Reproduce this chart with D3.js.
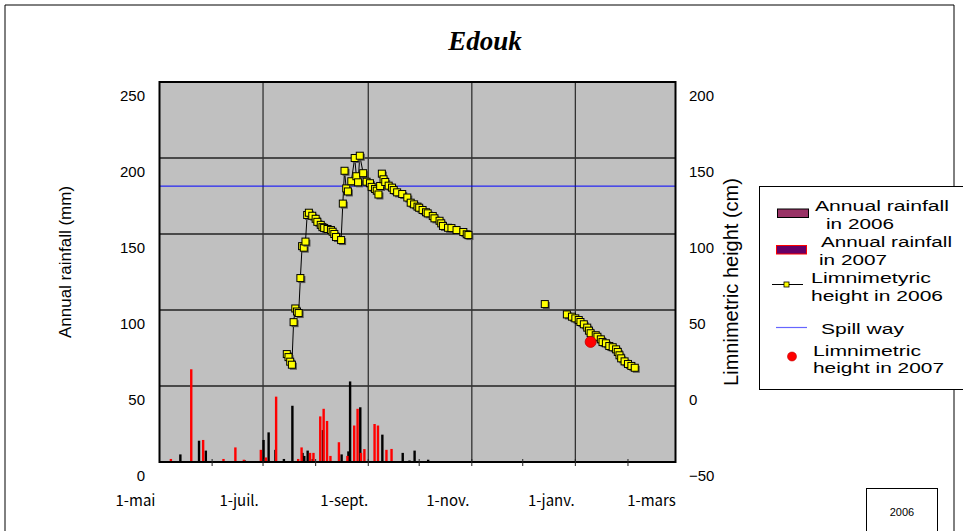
<!DOCTYPE html>
<html lang="fr">
<head>
<meta charset="UTF-8">
<title>Edouk</title>
<style>
  body { margin: 0; background: #fff; }
  svg text { font-family: "Liberation Sans", Arial, sans-serif; fill: #000; }
</style>
</head>
<body>
<div id="chart"></div>
<script src="https://d3js.org/d3.v7.min.js"></script>
<script>
var parse = d3.timeParse("%Y-%m-%d");

// daily rainfall (mm), both years drawn on the same May -> March season axis
var rain2006Dates = ["2006-05-14","2006-05-25","2006-05-29","2006-06-21","2006-07-02","2006-07-05","2006-07-09","2006-07-14",
  "2006-07-19","2006-07-25","2006-07-26","2006-07-28","2006-07-31","2006-08-06","2006-08-17","2006-08-21","2006-08-22",
  "2006-08-28","2006-09-10","2006-09-22","2006-09-26","2006-09-29","2006-10-07"];
var rain2006Values = [5,14,7.5,1,14.5,19.5,8,2,37,6,4,7.5,2,21,5,7,53,36,18,6,1,7.5,1.5];

var rain2007Dates = ["2006-05-07","2006-05-19","2006-05-26","2006-06-07","2006-06-14","2006-06-19","2006-06-29","2006-07-02",
  "2006-07-08","2006-07-21","2006-07-23","2006-07-28","2006-07-30","2006-08-03","2006-08-05","2006-08-07","2006-08-09",
  "2006-08-14","2006-08-19","2006-08-23","2006-08-25","2006-08-27","2006-08-29","2006-09-04","2006-09-06","2006-09-11","2006-09-14"];
var rain2007Values = [2,61,14.5,2,9.6,1.5,8,3,43,2,9.6,6,6,30,35,27,4,13,4,24,35,6,8.5,25,24,8,8.6];

// limnimetric height 2006 (cm), null = no reading (breaks the line)
var level2006Dates = [
  "2006-07-15","2006-07-16","2006-07-17","2006-07-18","2006-07-19","2006-07-20","2006-07-21","2006-07-22","2006-07-23",
  "2006-07-24","2006-07-25","2006-07-26","2006-07-27","2006-07-28","2006-07-30",
  "2006-08-01","2006-08-02","2006-08-04","2006-08-05","2006-08-06","2006-08-08","2006-08-10","2006-08-11","2006-08-12",
  "2006-08-13","2006-08-16","2006-08-17","2006-08-18","2006-08-19","2006-08-20","2006-08-22","2006-08-24","2006-08-25",
  "2006-08-26","2006-08-27","2006-08-29","2006-08-31",
  "2006-09-02","2006-09-03","2006-09-05","2006-09-06","2006-09-07","2006-09-08","2006-09-09","2006-09-10","2006-09-11",
  "2006-09-13","2006-09-15","2006-09-16","2006-09-18","2006-09-21","2006-09-24","2006-09-26","2006-09-28","2006-09-30",
  "2006-10-01","2006-10-03","2006-10-05","2006-10-06","2006-10-09","2006-10-10","2006-10-13","2006-10-14","2006-10-15",
  "2006-10-18","2006-10-20","2006-10-23","2006-10-27","2006-10-29","2006-10-30",
  "2006-11-15","2006-12-14","2006-12-20",
  "2006-12-27","2006-12-30","2007-01-01","2007-01-03","2007-01-04","2007-01-06","2007-01-08","2007-01-09","2007-01-10",
  "2007-01-13","2007-01-14","2007-01-16","2007-01-17","2007-01-19","2007-01-21","2007-01-23","2007-01-25","2007-01-26",
  "2007-01-27","2007-01-28","2007-01-30","2007-02-01","2007-02-03","2007-02-05"];
var level2006Values = [
  21,19,16,14,42,51,49,48,71,92,91,95,112.5,114,112,
  110,108,106,104.5,104,103.3,102.6,101.5,100,98,96,120,141.6,130,128,134.7,150,138,134,151.5,140,134.4,
  133.4,131,129.6,128.5,126,131.6,139.7,136,134.2,131.8,130.5,128.9,127.4,126.3,124,120.6,119.5,118,
  117.3,115.8,114.3,113.6,111.8,110.3,108.7,107,105.3,104.1,103.9,102.6,101.3,99.8,99.3,
  null,53.9,null,
  47.1,45.6,44.5,43.4,42.1,40.6,38.4,36.4,34.7,33.4,32.4,30.7,28.9,28.1,26.3,25.5,24.1,22.4,20.2,18.2,16.2,14.5,13.2,12];

var level2007Dates = ["2007-01-10"];
var level2007Values = [29];

var spillWay = 131.5;

var xTickDates = ["2006-05-01","2006-07-01","2006-09-01","2006-11-01","2007-01-01","2007-03-01"];
var xTickLabels = ["1-mai","1-juil.","1-sept.","1-nov.","1-janv.","1-mars"];
var leftTicks = [0,50,100,150,200,250];
var rightTicks = [-50,0,50,100,150,200];

var W = 963, H = 531;
var plot = {left: 159.5, right: 675.5, top: 82, bottom: 462};

var svg = d3.select("#chart").append("svg")
  .attr("width", W).attr("height", H);

var x = d3.scaleTime()
  .domain([parse("2006-05-01"), parse("2007-03-01")])
  .range([plot.left, plot.right]);
var yL = d3.scaleLinear().domain([0, 250]).range([plot.bottom, plot.top]);
var yR = d3.scaleLinear().domain([-50, 200]).range([plot.bottom, plot.top]);

// outer frame
svg.append("path")
  .attr("d", "M5," + H + "V5H954V" + H)
  .attr("fill", "none").attr("stroke", "#000").attr("stroke-width", 1);

// title
svg.append("text")
  .attr("x", 485).attr("y", 50)
  .attr("text-anchor", "middle")
  .style("font-family", "'Liberation Serif', serif")
  .style("font-weight", "bold").style("font-style", "italic")
  .style("font-size", "27px")
  .text("Edouk");

// plot background
svg.append("rect")
  .attr("x", plot.left).attr("y", plot.top)
  .attr("width", plot.right - plot.left).attr("height", plot.bottom - plot.top)
  .attr("fill", "#c0c0c0");

// grid
svg.append("g").selectAll("line")
  .data(leftTicks.slice(1, -1))
  .join("line")
  .attr("x1", plot.left).attr("x2", plot.right)
  .attr("y1", function(d){ return yL(d); }).attr("y2", function(d){ return yL(d); })
  .attr("stroke", "#222").attr("stroke-width", 1.3);

svg.append("g").selectAll("line")
  .data(xTickDates.slice(1, -1))
  .join("line")
  .attr("x1", function(d){ return x(parse(d)); }).attr("x2", function(d){ return x(parse(d)); })
  .attr("y1", plot.top).attr("y2", plot.bottom)
  .attr("stroke", "#333").attr("stroke-width", 1.3);

// spill way
svg.append("line")
  .attr("x1", plot.left).attr("x2", plot.right)
  .attr("y1", yR(spillWay)).attr("y2", yR(spillWay))
  .attr("stroke", "#0000ff").attr("stroke-width", 1);

// rainfall bars
var barW = 2.4;
function drawBars(dates, values, color, offset) {
  svg.append("g").selectAll("rect")
    .data(dates.map(function(d, i){ return {date: parse(d), v: values[i]}; }))
    .join("rect")
    .attr("x", function(d){ return x(d.date) + offset - barW / 2; })
    .attr("y", function(d){ return yL(d.v); })
    .attr("width", barW)
    .attr("height", function(d){ return plot.bottom - yL(d.v); })
    .attr("fill", color);
}
drawBars(rain2006Dates, rain2006Values, "#000", -1.2);
drawBars(rain2007Dates, rain2007Values, "#ff0000", 1.2);

// limnimetric line 2006
var levelData = level2006Dates.map(function(d, i){ return {date: parse(d), v: level2006Values[i]}; });
var line = d3.line()
  .defined(function(d){ return d.v !== null; })
  .x(function(d){ return x(d.date); })
  .y(function(d){ return yR(d.v); });

svg.append("path")
  .datum(levelData)
  .attr("d", line)
  .attr("fill", "none").attr("stroke", "#000").attr("stroke-width", 1);

var pts = levelData.filter(function(d){ return d.v !== null; });
var mk = 7;
var markers = svg.append("g");
pts.forEach(function(d){
  var cx = x(d.date), cy = yR(d.v);
  markers.append("rect")
    .attr("x", cx - mk / 2 + 1.5).attr("y", cy - mk / 2 + 1.5)
    .attr("width", mk).attr("height", mk)
    .attr("fill", "#555");
  markers.append("rect")
    .attr("x", cx - mk / 2).attr("y", cy - mk / 2)
    .attr("width", mk).attr("height", mk)
    .attr("fill", "#ffff00").attr("stroke", "#000").attr("stroke-width", 1);
});

// limnimetric height 2007
svg.append("g").selectAll("circle")
  .data(level2007Dates.map(function(d, i){ return {date: parse(d), v: level2007Values[i]}; }))
  .join("circle")
  .attr("cx", function(d){ return x(d.date); })
  .attr("cy", function(d){ return yR(d.v); })
  .attr("r", 5.5)
  .attr("fill", "#ff0000").attr("stroke", "#c00000").attr("stroke-width", 0.8);

// plot border
svg.append("rect")
  .attr("x", plot.left).attr("y", plot.top)
  .attr("width", plot.right - plot.left).attr("height", plot.bottom - plot.top)
  .attr("fill", "none").attr("stroke", "#000").attr("stroke-width", 2);

// small month ticks on the bottom edge
svg.append("g").selectAll("line")
  .data(d3.timeMonth.range(parse("2006-06-01"), parse("2007-03-01")))
  .join("line")
  .attr("x1", function(d){ return x(d); }).attr("x2", function(d){ return x(d); })
  .attr("y1", plot.bottom - 3).attr("y2", plot.bottom + 4)
  .attr("stroke", "#222").attr("stroke-width", 1);

// axis labels (drawn shifted like the original sheet)
svg.append("g").selectAll("text")
  .data(leftTicks)
  .join("text")
  .attr("x", 145).attr("y", function(d){ return yL(d) + 15.5; })
  .attr("text-anchor", "end").attr("dominant-baseline", "middle")
  .style("font-size", "15px")
  .text(function(d){ return d; });

svg.append("g").selectAll("text")
  .data(rightTicks)
  .join("text")
  .attr("x", 689).attr("y", function(d){ return yR(d) + 15; })
  .attr("text-anchor", "start").attr("dominant-baseline", "middle")
  .style("font-size", "15px")
  .text(function(d){ return d < 0 ? "\u2212" + Math.abs(d) : d; });

svg.append("g").selectAll("text")
  .data(xTickDates)
  .join("text")
  .attr("x", function(d){ return x(parse(d)) - 24; })
  .attr("y", 502)
  .attr("text-anchor", "middle").attr("dominant-baseline", "middle")
  .style("font-family", "'Noto Sans CJK JP', sans-serif")
  .style("font-size", "15px")
  .text(function(d, i){ return xTickLabels[i]; });

// axis titles
svg.append("text")
  .attr("transform", "translate(71,262) rotate(-90)")
  .attr("text-anchor", "middle")
  .style("font-size", "17px")
  .text("Annual rainfall (mm)");

svg.append("text")
  .attr("transform", "translate(738,282) rotate(-90)")
  .attr("text-anchor", "middle")
  .style("font-size", "20px")
  .text("Limnimetric height (cm)");

// legend
var lg = svg.append("g");
lg.append("rect")
  .attr("x", 759.5).attr("y", 186.5).attr("width", 210).attr("height", 203)
  .attr("fill", "#fff").attr("stroke", "#000").attr("stroke-width", 1);

lg.append("rect").attr("x", 777.5).attr("y", 209).attr("width", 31).attr("height", 8.5)
  .attr("fill", "#993366").attr("stroke", "#000");
lg.append("rect").attr("x", 776.5).attr("y", 245.5).attr("width", 30).attr("height", 8.5)
  .attr("fill", "#660066").attr("stroke", "#ff0000");
lg.append("line").attr("x1", 772).attr("x2", 803).attr("y1", 284.5).attr("y2", 284.5)
  .attr("stroke", "#000");
lg.append("rect").attr("x", 784).attr("y", 282).attr("width", 5).attr("height", 5)
  .attr("fill", "#ffff00").attr("stroke", "#000").attr("stroke-width", 0.8);
lg.append("line").attr("x1", 776).attr("x2", 807).attr("y1", 327.5).attr("y2", 327.5)
  .attr("stroke", "#6666ff").attr("stroke-width", 1.2);
lg.append("circle").attr("cx", 792).attr("cy", 356.5).attr("r", 4.5)
  .attr("fill", "#ff0000").attr("stroke", "#c00000").attr("stroke-width", 0.6);

// x, baseline, text, drawn width
var legendText = [
  [815, 211, "Annual rainfall", 134], [826, 228.5, "in 2006", 68],
  [821, 247, "Annual rainfall", 131], [819, 264.5, "in 2007", 68],
  [811, 283, "Limnimetyric", 120], [811, 300.5, "height in 2006", 132],
  [821, 334, "Spill way", 83],
  [813, 355.5, "Limnimetric", 108], [813, 373, "height in 2007", 131]
];
lg.selectAll("text.lt")
  .data(legendText)
  .join("text")
  .attr("class", "lt")
  .attr("x", function(d){ return d[0]; }).attr("y", function(d){ return d[1]; })
  .attr("textLength", function(d){ return d[3]; })
  .attr("lengthAdjust", "spacingAndGlyphs")
  .style("font-size", "15.5px")
  .text(function(d){ return d[2]; });

// year box
svg.append("rect")
  .attr("x", 866.5).attr("y", 488.5).attr("width", 71).attr("height", 60)
  .attr("fill", "#fff").attr("stroke", "#000").attr("stroke-width", 1);
svg.append("text")
  .attr("x", 902).attr("y", 513)
  .attr("text-anchor", "middle").attr("dominant-baseline", "middle")
  .style("font-size", "11px")
  .text("2006");
</script>
</body>
</html>
